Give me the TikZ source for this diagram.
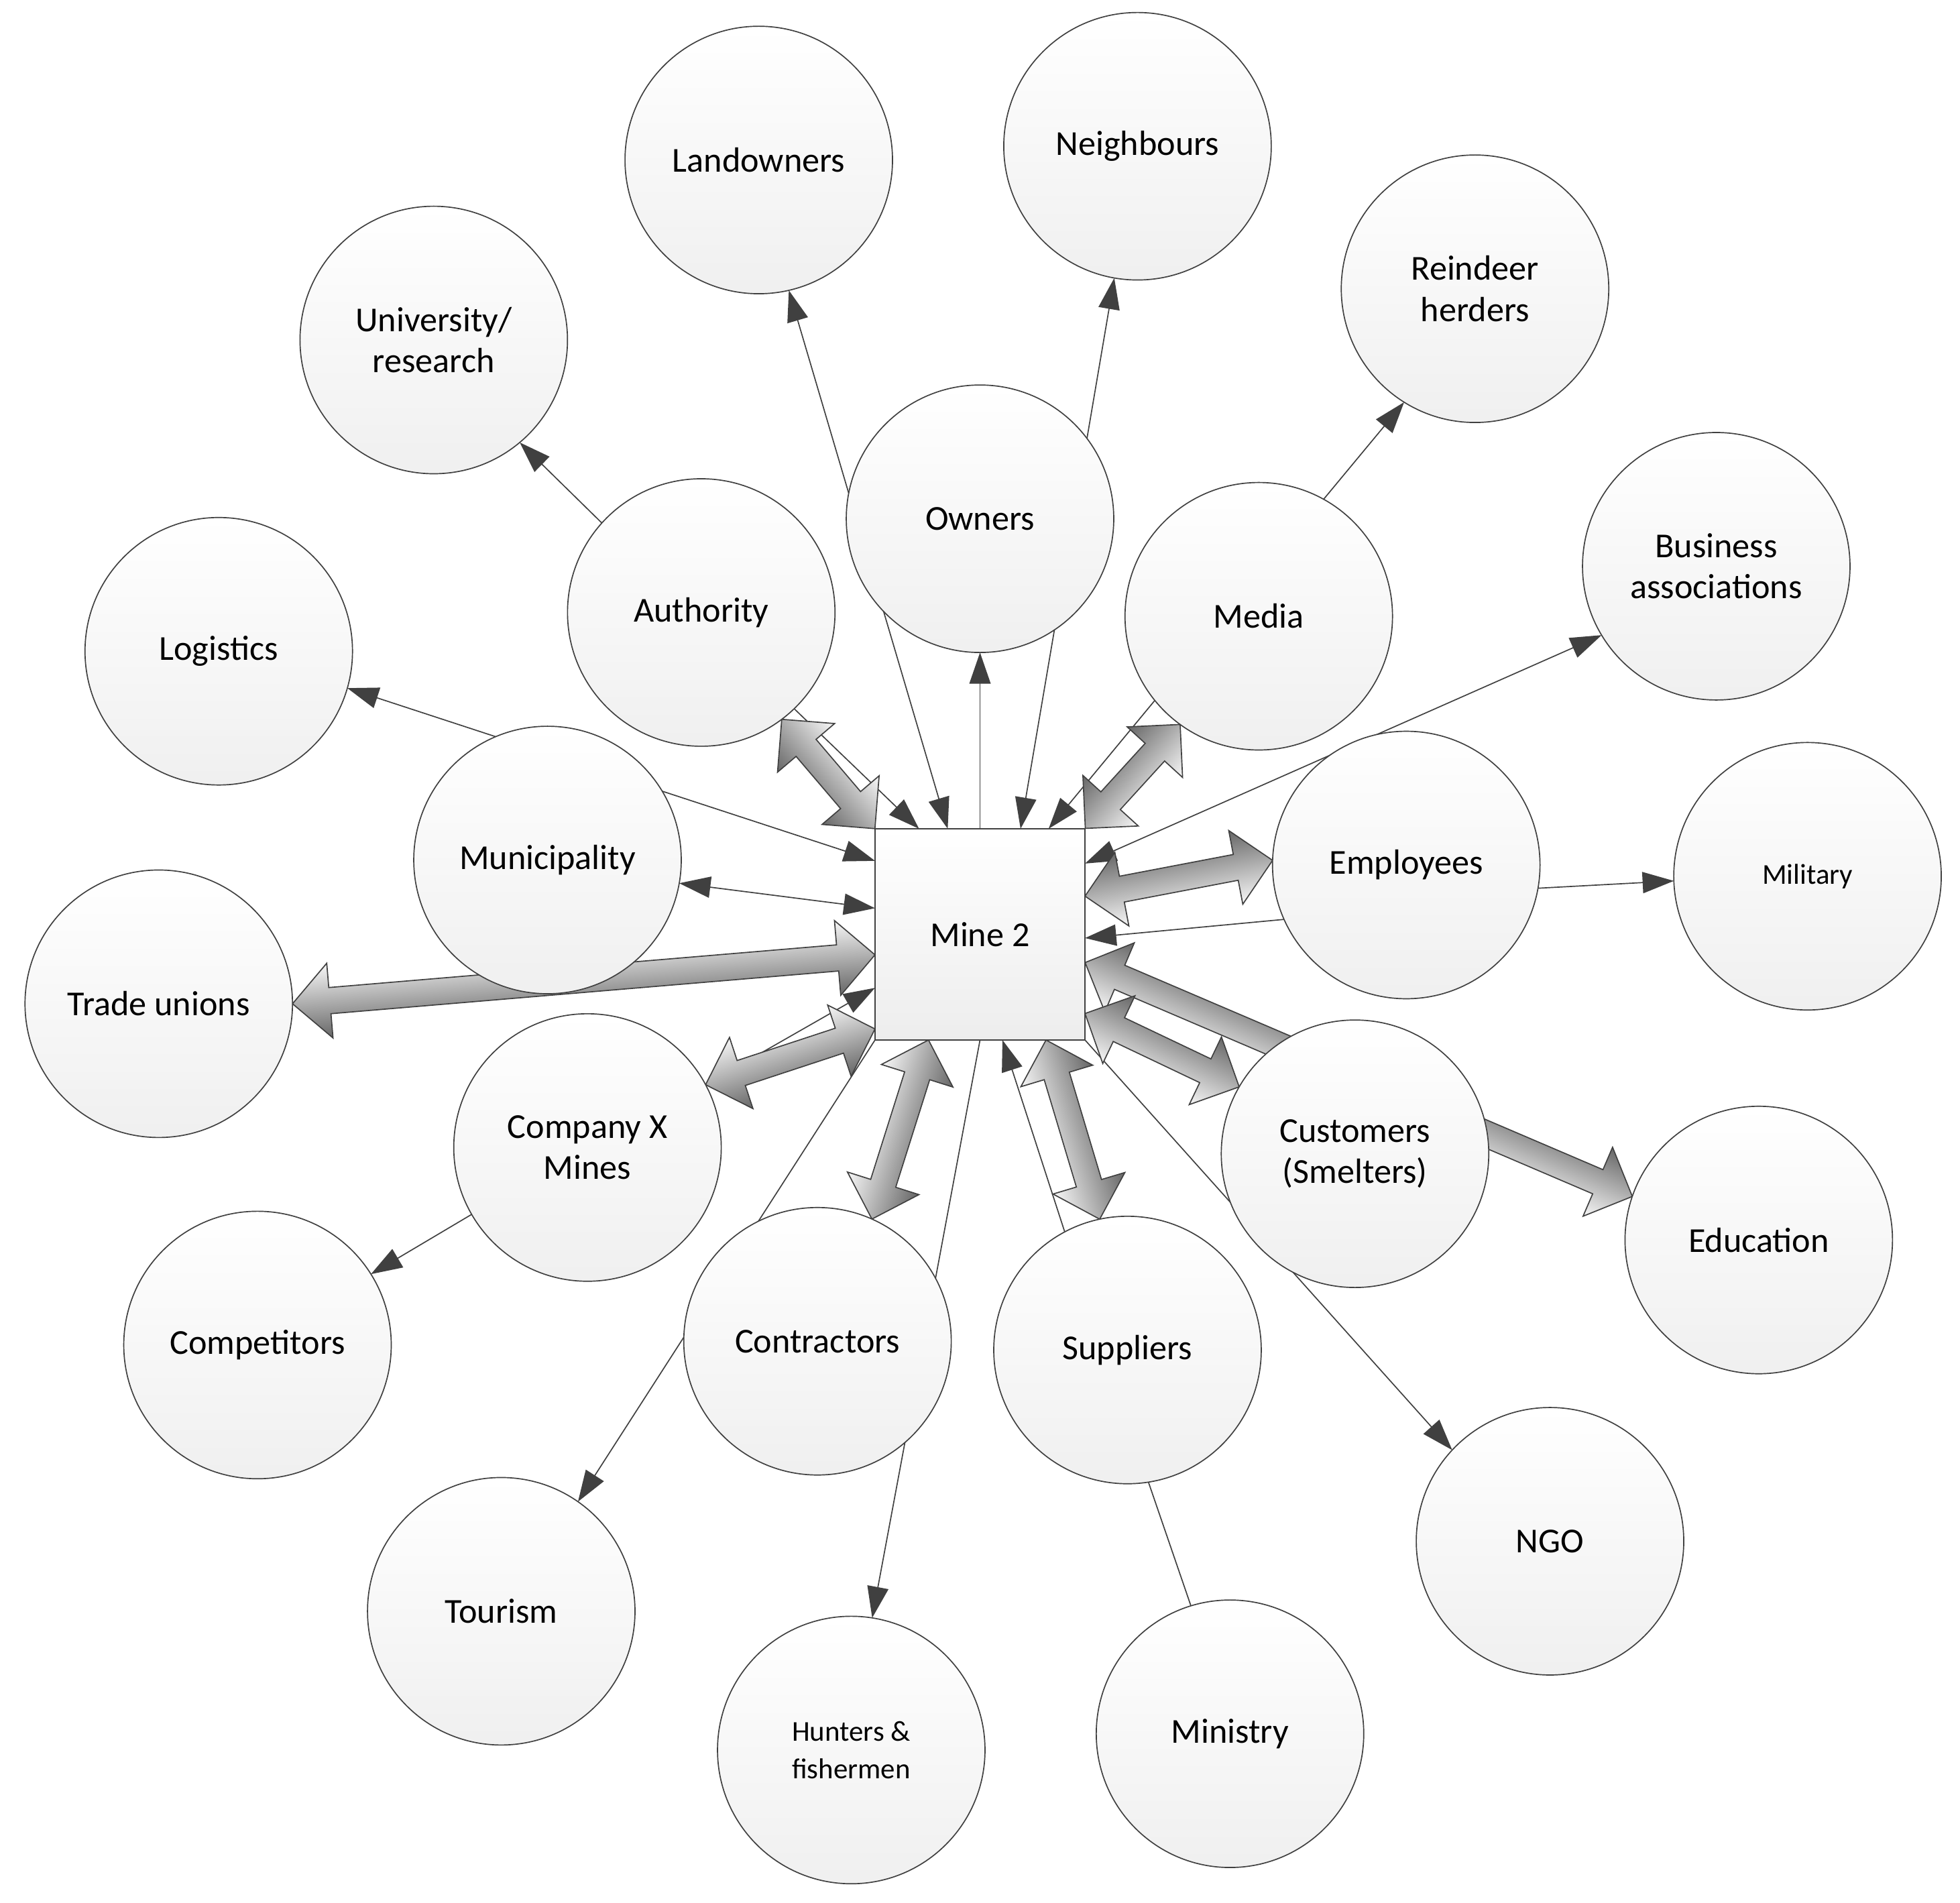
\documentclass[tikz,border=0pt]{standalone}
\usepackage{fontspec}
\setmainfont{Carlito}
\usetikzlibrary{arrows.meta,calc}
\pgfdeclarelayer{paper}
\pgfdeclarelayer{thinl}
\pgfdeclarelayer{thickl}
\pgfsetlayers{paper,thinl,thickl,main}
\definecolor{linec}{HTML}{404040}
\tikzset{
  stake/.style={circle, draw=linec, line width=0.9pt, minimum size=214pt, inner sep=0pt, outer sep=0pt,
    top color=white, bottom color=black!6, align=center, font=\fontsize{28}{33}\selectfont},
  smalltxt/.style={font=\fontsize{23}{30}\selectfont},
  minebox/.style={rectangle, draw=linec, line width=1.2pt, minimum width=168pt, minimum height=169pt,
    inner sep=0pt, outer sep=0pt, top color=white, bottom color=black!7, font=\fontsize{28}{33}\selectfont},
  conn/.style={draw=linec, line width=0.9pt},
  bigarr/.style={draw=linec, line width=0.9pt, line join=miter, top color=black!3, bottom color=black!60},
  >={Triangle[length=25pt,width=17pt]}
}
\newcommand\bigarrow[2]{%
  \path let \p1=(#1), \p2=(#2), \p3=($(\p2)-(\p1)$) in
    \pgfextra{%
      \pgfmathsetmacro\baX{\x1}%
      \pgfmathsetmacro\baY{\y1}%
      \pgfmathsetmacro\baA{atan2(\y3,\x3)}%
      \pgfmathsetmacro\baL{veclen(\x3,\y3)}%
      \pgfmathsetmacro\baM{\baL-30}%
      \xdef\baX{\baX}\xdef\baY{\baY}\xdef\baA{\baA}\xdef\baL{\baL}\xdef\baM{\baM}%
    };
  \begin{scope}[transform canvas={shift={(\baX pt,\baY pt)},rotate=\baA}]
    \shadedraw[bigarr] (0pt,0pt) -- (30pt,30pt) -- (30pt,10.5pt) -- (\baM pt,10.5pt)
      -- (\baM pt,30pt) -- (\baL pt,0pt) -- (\baM pt,-30pt) -- (\baM pt,-10.5pt)
      -- (30pt,-10.5pt) -- (30pt,-30pt) -- cycle;
  \end{scope}%
}
\begin{document}
\begin{tikzpicture}[x=1pt,y=-1pt]
\useasboundingbox (0,0) rectangle (1568,1522);
\begin{pgfonlayer}{paper}
  \fill[white] (0,0) rectangle (1568,1522);
\end{pgfonlayer}

% nodes
\node[minebox] (mine) at (784,747.5) {Mine 2};
\node[stake] (land) at (607,128) {Landowners};
\node[stake] (neigh) at (910,117) {Neighbours};
\node[stake] (rein) at (1180,231) {Reindeer\\herders};
\node[stake] (univ) at (347,272) {University/\\research};
\node[stake] (bus) at (1373,453) {Business\\associations};
\node[stake] (logi) at (175,521) {Logistics};
\node[stake] (auth) at (561,490) {Authority};
\node[stake] (own) at (784,415) {Owners};
\node[stake] (media) at (1007,493) {Media};
\node[stake] (muni) at (438,688) {Municipality};
\node[stake] (empl) at (1125,692) {Employees};
\node[stake,smalltxt] (mil) at (1446,701) {Military};
\node[stake] (trade) at (127,803) {Trade unions};
\node[stake] (compx) at (470,918) {Company X\\Mines};
\node[stake] (cust) at (1084,923) {Customers\\(Smelters)};
\node[stake] (edu) at (1407,992) {Education};
\node[stake] (comp) at (206,1076) {Competitors};
\node[stake] (contr) at (654,1073) {Contractors};
\node[stake] (supp) at (902,1080) {Suppliers};
\node[stake] (ngo) at (1240,1233) {NGO};
\node[stake] (tour) at (401,1289) {Tourism};
\node[stake,smalltxt] (hunt) at (681,1400) {Hunters \&\\fishermen};
\node[stake] (mini) at (984,1387) {Ministry};

% thin connectors
\begin{pgfonlayer}{thinl}
  \draw[conn,->] (auth.138) -- (univ.-50.1);
  \draw[conn,<->] (mine.107.7) -- (land.-77.5);
  \draw[conn,<->] (mine.69.9) -- (neigh.-100.8);
  \draw[conn,->] (mine.north) -- (own.south);
  \draw[conn,->] (auth.-46.5) -- (mine.120.6);
  \draw[conn,->] (media.-141.4) -- (mine.57.9);
  \draw[conn,<->] (mine.34.4) -- (bus.-149.4);
  \draw[conn,->] (empl.-156.3) -- (mine.-2);
  \draw[conn,->] (empl.-10.6) -- (mil.-178.9);
  \draw[conn,->] (mine.south east) -- (ngo.137.6);
  \draw[conn,->] (supp.118.7) -- (mine.-78.8);
  \draw[conn,->] (mine.south) -- (hunt.81.3);
  \draw[conn,->] (mine.south west) -- (tour.55.6);
  \draw[conn,->] (compx.28) -- (mine.-153.2);
  \draw[conn,<->] (muni.-10) -- (mine.166.3);
  \draw[conn,<->] (logi.-16.2) -- (mine.145.6);
  \draw[conn,->] (compx.-150.4) -- (comp.32.2);
  \draw[conn,->] (media.61.7) -- (rein.-122.5);
  \draw[conn] (supp.-81.3) -- (mini.107.1);
\end{pgfonlayer}

% thick double arrows
\begin{pgfonlayer}{thickl}
  \bigarrow{auth.-53}{mine.north west}
  \bigarrow{media.-126.2}{mine.north east}
  \bigarrow{empl.178.9}{mine.20.6}
  \bigarrow{edu.161.6}{mine.-15.6}
  \bigarrow{cust.150}{mine.-37.5}
  \bigarrow{supp.102}{mine.-58.2}
  \bigarrow{contr.66.3}{mine.-116.7}
  \bigarrow{compx.28}{mine.-138.4}
  \bigarrow{trade.0}{mine.-169.5}
\end{pgfonlayer}
\end{tikzpicture}
\end{document}
